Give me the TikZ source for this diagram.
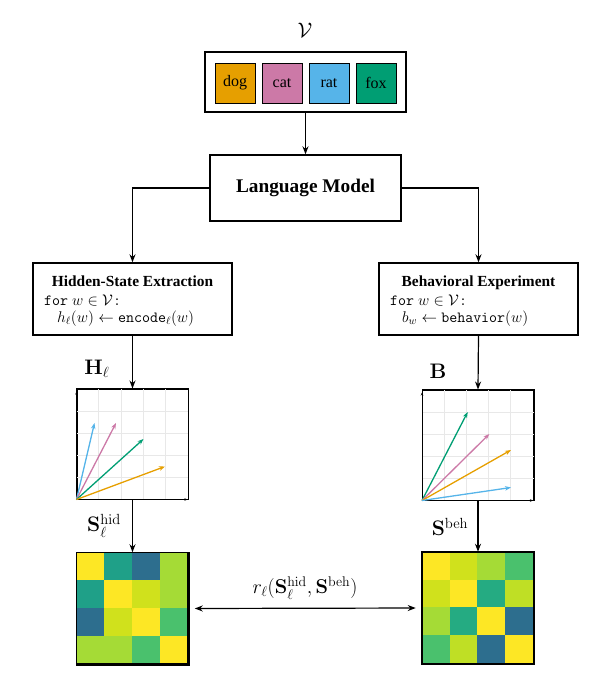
\RequirePackage{fix-cm}
\documentclass[tikz,border=0pt]{standalone}
\usepackage[no-math]{fontspec}
\setmainfont{Liberation Serif}
\usepackage{amsmath,amssymb}
\usetikzlibrary{arrows.meta,calc}
\definecolor{dogc}{HTML}{E69F00}
\definecolor{catc}{HTML}{CC79A7}
\definecolor{ratc}{HTML}{56B4E9}
\definecolor{foxc}{HTML}{009E73}
\definecolor{vA}{HTML}{FDE725}
\definecolor{vB}{HTML}{D0E11C}
\definecolor{vC}{HTML}{BFDF25}
\definecolor{vD}{HTML}{A5DB36}
\definecolor{vE}{HTML}{4AC16D}
\definecolor{vF}{HTML}{25AB82}
\definecolor{vG}{HTML}{1FA088}
\definecolor{vH}{HTML}{2D6E8E}
\tikzset{
  box/.style={draw, line width=1.4pt, inner sep=0pt, fill=white},
  word/.style={draw, line width=1pt, minimum width=40pt, minimum height=40pt, inner sep=0pt, font=\fontsize{16}{18}\selectfont},
  arr/.style={line width=1.2pt, -{Stealth[length=8pt,width=6pt]}},
  darr/.style={line width=1.2pt, {Stealth[length=8pt,width=6pt]}-{Stealth[length=8pt,width=6pt]}},
  title/.style={font=\fontsize{15.4}{18}\selectfont\bfseries},
  code/.style={font=\fontsize{15.5}{18}\selectfont, anchor=base west, inner sep=0pt},
  plotbox/.style={draw, line width=1pt, minimum width=111pt, minimum height=110pt, inner sep=0pt},
  heat/.style={draw, line width=1.5pt, minimum width=111pt, minimum height=111pt, inner sep=0pt},
  vec/.style={line width=1.3pt, -{Stealth[length=6pt,width=4.5pt]}},
  lab/.style={font=\fontsize{21}{24}\selectfont},
}
\begin{document}
\begin{tikzpicture}[x=1pt,y=-1pt]
\useasboundingbox (0,0) rectangle (613,680);
% vocabulary
\node[font=\fontsize{21}{24}\selectfont] (vlab) at (305,30) {$\mathcal{V}$};
\node[box, minimum width=201pt, minimum height=60pt] (vocab) at (305.5,82) {};
\node[word, fill=dogc] (dog) at (235,83) {dog};
\node[word, fill=catc] (cat) at (282,83) {cat};
\node[word, fill=ratc] (rat) at (329,83) {rat};
\node[word, fill=foxc] (fox) at (376,83) {fox};
% language model
\node[box, minimum width=191pt, minimum height=66pt, font=\fontsize{19.3}{22}\selectfont\bfseries] (lm) at (305.5,188) {Language Model};
\draw[arr] (vocab.south) -- (lm.north);
% extraction boxes
\node[box, minimum width=199pt, minimum height=72pt] (hid) at (132.5,299) {};
\node[box, minimum width=199pt, minimum height=72pt] (beh) at (478.5,299) {};
\draw[arr] (lm.west) -| (hid.north);
\draw[arr] (lm.east) -| (beh.north);
\node[title, anchor=base, inner sep=0pt] (hidT) at (132.5,286) {Hidden-State Extraction};
\node[code] (hid1) at (44,305.5) {\texttt{for} $w\in\mathcal{V}$\texttt{:}};
\node[code] (hid2) at (57,322) {$h_\ell(w)\leftarrow\texttt{encode}_\ell(w)$};
\node[title, anchor=base, inner sep=0pt] (behT) at (478.5,286) {Behavioral Experiment};
\node[code] (beh1) at (390,305.5) {\texttt{for} $w\in\mathcal{V}$\texttt{:}};
\node[code] (beh2) at (402,322) {$b_w\leftarrow\texttt{behavior}(w)$};
% plots
\node[plotbox] (pL) at (132.5,444) {};
\node[plotbox] (pR) at (478,445) {};
\foreach \k in {1,...,4} {
  \draw[gray!18, line width=0.6pt] ($(pL.south west)+(22.2*\k,0)$) -- ($(pL.north west)+(22.2*\k,0)$);
  \draw[gray!18, line width=0.6pt] ($(pL.south west)+(0,-22*\k)$) -- ($(pL.south east)+(0,-22*\k)$);
  \draw[gray!18, line width=0.6pt] ($(pR.south west)+(22*\k,0)$) -- ($(pR.north west)+(22*\k,0)$);
  \draw[gray!18, line width=0.6pt] ($(pR.south west)+(0,-22*\k)$) -- ($(pR.south east)+(0,-22*\k)$);
}
\draw[line width=1pt] (pL.north west) rectangle (pL.south east);
\draw[line width=1pt] (pR.north west) rectangle (pR.south east);
\draw[line width=0.8pt, -{Stealth[length=3pt,width=2.5pt]}] (pL.south west) -- ($(pL.north west)+(0,3)$);
\draw[line width=0.8pt, -{Stealth[length=3pt,width=2.5pt]}] (pL.south west) -- ($(pL.south east)+(-1,0)$);
\draw[line width=0.8pt, -{Stealth[length=3pt,width=2.5pt]}] (pR.south west) -- ($(pR.north west)+(0,3)$);
\draw[line width=0.8pt, -{Stealth[length=3pt,width=2.5pt]}] (pR.south west) -- ($(pR.south east)+(-1,0)$);
% vectors left
\draw[vec, ratc] (pL.south west) -- (94.5,423);
\draw[vec, catc] (pL.south west) -- (116,423);
\draw[vec, foxc] (pL.south west) -- (143.5,439);
\draw[vec, dogc] (pL.south west) -- (165,466.5);
% vectors right
\draw[vec, foxc] (pR.south west) -- (467.7,412);
\draw[vec, catc] (pR.south west) -- (489.3,434);
\draw[vec, dogc] (pR.south west) -- (511,450);
\draw[vec, ratc] (pR.south west) -- (511,487.5);
\draw[arr] (hid.south) -- (pL.north);
\draw[arr] (beh.south) -- (pR.north);
\node[lab] (Hlab) at (97,369) {$\mathbf{H}_\ell$};
\node[lab] (Blab) at (438,371) {$\mathbf{B}$};
% heatmaps
\node[heat] (hL) at (132.5,608.5) {};
\node[heat] (hR) at (478,608) {};
\foreach \c [count=\i from 0] in {vA,vG,vH,vD, vG,vA,vB,vD, vH,vB,vA,vE, vD,vD,vE,vA} {
  \pgfmathtruncatemacro{\r}{int(\i/4)}
  \pgfmathtruncatemacro{\q}{mod(\i,4)}
  \fill[\c] ($(hL.north west)+(27.75*\q,27.75*\r)$) rectangle +(27.75,27.75);
}
\foreach \c [count=\i from 0] in {vA,vB,vD,vE, vB,vA,vF,vC, vD,vF,vA,vH, vE,vC,vH,vA} {
  \pgfmathtruncatemacro{\r}{int(\i/4)}
  \pgfmathtruncatemacro{\q}{mod(\i,4)}
  \fill[\c] ($(hR.north west)+(27.75*\q,27.75*\r)$) rectangle +(27.75,27.75);
}
\draw[line width=1.5pt] (hL.north west) rectangle (hL.south east);
\draw[line width=1.5pt] (hR.north west) rectangle (hR.south east);
\draw[arr] (pL.south) -- (hL.north);
\draw[arr] (pR.south) -- (hR.north);
\node[lab] (Shid) at (104,526) {$\mathbf{S}_\ell^{\mathrm{hid}}$};
\node[lab] (Sbeh) at (450,527) {$\mathbf{S}^{\mathrm{beh}}$};
\draw[darr, shorten <=6pt, shorten >=6pt] (hL.east) -- (hR.west);
\node[font=\fontsize{20}{22}\selectfont] (rlab) at (305,588) {$r_\ell(\mathbf{S}_\ell^{\mathrm{hid}},\mathbf{S}^{\mathrm{beh}})$};
\end{tikzpicture}
\end{document}
